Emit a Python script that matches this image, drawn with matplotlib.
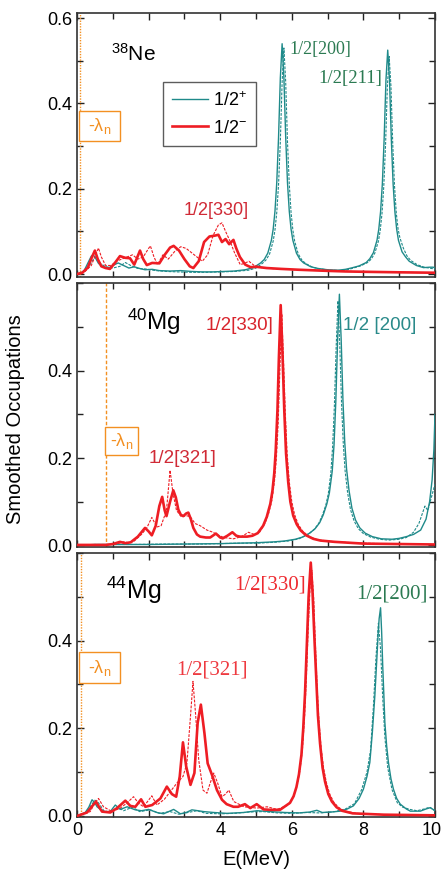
import matplotlib
matplotlib.use("Agg")
import matplotlib.pyplot as plt
from matplotlib.ticker import MultipleLocator, FormatStrFormatter, FixedLocator, FuncFormatter
from matplotlib.patches import Rectangle
from matplotlib.lines import Line2D
from matplotlib.transforms import ScaledTranslation, blended_transform_factory

plt.rcParams['font.family'] = ['Liberation Sans', 'DejaVu Sans']
plt.rcParams['mathtext.fontset'] = 'custom'
plt.rcParams['mathtext.rm'] = 'Liberation Sans'
plt.rcParams['mathtext.it'] = 'Liberation Sans:italic'
plt.rcParams['mathtext.default'] = 'regular'

# ---------------- 38Ne ----------------
NE38_POS_E = [0, 0.1, 0.2, 0.3, 0.4, 0.45, 0.5, 0.6, 0.7, 0.8, 0.9, 1.0, 1.15, 1.3, 1.45, 1.6, 1.75, 1.9,
              2.1, 2.3, 2.6, 2.9, 3.2, 3.5, 3.8, 4.1, 4.4, 4.7, 4.93, 5.13, 5.23, 5.33, 5.43, 5.48, 5.53,
              5.58, 5.63, 5.68, 5.73, 5.78, 5.83, 5.88, 5.93, 5.98, 6.03, 6.13, 6.23, 6.33, 6.53, 6.73,
              7.0, 7.3, 7.5, 7.68, 7.88, 8.08, 8.18, 8.28, 8.38, 8.43, 8.48, 8.53, 8.58, 8.63, 8.68, 8.73,
              8.78, 8.83, 8.88, 8.93, 8.98, 9.08, 9.18, 9.28, 9.48, 9.68, 9.85, 9.95, 10.0]
NE38_POS = [0, 0.002, 0.008, 0.025, 0.042, 0.045, 0.04, 0.025, 0.018, 0.016, 0.015, 0.02, 0.026, 0.02,
            0.014, 0.017, 0.013, 0.01, 0.011, 0.008, 0.007, 0.008, 0.006, 0.005, 0.005, 0.006, 0.007,
            0.01, 0.015, 0.026, 0.034, 0.049, 0.079, 0.105, 0.147, 0.214, 0.32, 0.46, 0.54, 0.46,
            0.32, 0.214, 0.147, 0.105, 0.079, 0.049, 0.034, 0.026, 0.017, 0.013, 0.01, 0.009, 0.011,
            0.0145, 0.019, 0.027, 0.036, 0.05, 0.079, 0.105, 0.146, 0.212, 0.317, 0.454, 0.525, 0.454,
            0.317, 0.212, 0.146, 0.105, 0.079, 0.052, 0.04, 0.03, 0.02, 0.015, 0.016, 0.016, 0.014]
NE38_POS_DASH_E = [0, 0.2, 0.35, 0.5, 0.55, 0.65, 0.8, 1.0, 1.2, 1.35, 1.5, 1.7, 1.9, 2.2, 2.5, 2.8, 3.2,
                   3.6, 4.0, 4.4, 4.8, 5.0, 5.18, 5.28, 5.38, 5.48, 5.53, 5.58, 5.63, 5.68, 5.73, 5.78,
                   5.83, 5.88, 5.93, 5.98, 6.03, 6.08, 6.18, 6.28, 6.38, 6.58, 6.78, 7.1, 7.4, 7.6, 7.72,
                   7.92, 8.12, 8.22, 8.32, 8.42, 8.47, 8.52, 8.57, 8.62, 8.67, 8.72, 8.77, 8.82, 8.87,
                   8.92, 8.97, 9.02, 9.12, 9.22, 9.32, 9.5, 9.7, 9.9, 10.0]
NE38_POS_DASH = [0, 0.005, 0.02, 0.04, 0.038, 0.025, 0.017, 0.014, 0.018, 0.027, 0.02, 0.013, 0.012,
                 0.008, 0.006, 0.005, 0.004, 0.004, 0.005, 0.006, 0.009, 0.014, 0.025, 0.033, 0.047,
                 0.077, 0.103, 0.144, 0.21, 0.31, 0.45, 0.53, 0.45, 0.31, 0.21, 0.144, 0.103, 0.077,
                 0.047, 0.033, 0.025, 0.016, 0.012, 0.009, 0.008, 0.011, 0.014, 0.019, 0.027, 0.035,
                 0.049, 0.077, 0.102, 0.142, 0.206, 0.305, 0.44, 0.51, 0.44, 0.305, 0.206, 0.142,
                 0.105, 0.085, 0.06, 0.042, 0.032, 0.022, 0.016, 0.013, 0.012]
NE38_NEG_E = [0, 0.15, 0.3, 0.42, 0.5, 0.58, 0.68, 0.8, 0.92, 1.05, 1.2, 1.35, 1.48, 1.6, 1.76, 1.85,
              1.95, 2.1, 2.3, 2.45, 2.6, 2.7, 2.85, 3.0, 3.15, 3.25, 3.4, 3.55, 3.7, 3.85, 3.95, 4.05,
              4.15, 4.25, 4.37, 4.45, 4.55, 4.7, 4.85, 5.0, 5.3, 5.7, 6.2, 6.8, 7.5, 8.2, 9.0, 10.0]
NE38_NEG = [0, 0.003, 0.015, 0.04, 0.055, 0.035, 0.018, 0.014, 0.012, 0.025, 0.042, 0.038, 0.037,
            0.022, 0.055, 0.035, 0.021, 0.026, 0.025, 0.045, 0.062, 0.066, 0.055, 0.035, 0.018, 0.014,
            0.03, 0.075, 0.088, 0.09, 0.092, 0.075, 0.082, 0.07, 0.08, 0.06, 0.04, 0.022, 0.016,
            0.017, 0.014, 0.012, 0.01, 0.008, 0.006, 0.005, 0.004, 0.003]
NE38_NEG_DASH_E = [0, 0.2, 0.4, 0.52, 0.6, 0.68, 0.8, 0.95, 1.1, 1.25, 1.4, 1.55, 1.7, 1.85, 2.0, 2.05,
                   2.15, 2.25, 2.4, 2.55, 2.75, 2.9, 3.05, 3.2, 3.35, 3.5, 3.65, 3.8, 3.95, 4.05, 4.15,
                   4.27, 4.4, 4.56, 4.68, 4.8, 4.95, 5.2, 5.6, 6.2, 7.0, 8.0, 9.0, 10.0]
NE38_NEG_DASH = [0, 0.004, 0.02, 0.045, 0.061, 0.04, 0.02, 0.02, 0.03, 0.035, 0.04, 0.045, 0.035,
                 0.04, 0.06, 0.066, 0.04, 0.022, 0.045, 0.035, 0.055, 0.064, 0.06, 0.05, 0.04, 0.03,
                 0.045, 0.09, 0.115, 0.12, 0.1, 0.078, 0.05, 0.022, 0.025, 0.03, 0.02, 0.014, 0.012,
                 0.01, 0.008, 0.005, 0.004, 0.003]

# ---------------- 40Mg ----------------
MG40_POS_E = [0, 0.5, 1.0, 2.0, 3.0, 4.0, 4.5, 5.0, 5.5, 5.8, 6.1, 6.3, 6.5, 6.65, 6.78, 6.88, 6.98, 7.05,
              7.13, 7.18, 7.23, 7.28, 7.33, 7.38, 7.43, 7.48, 7.53, 7.6, 7.68, 7.78, 7.9, 8.05, 8.25,
              8.5, 8.8, 9.0, 9.2, 9.4, 9.6, 9.75, 9.85, 9.92, 9.97, 10.0]
MG40_POS = [0, 0.002, 0.002, 0.002, 0.003, 0.004, 0.005, 0.006, 0.008, 0.01, 0.014, 0.019, 0.028, 0.038,
            0.052, 0.07, 0.095, 0.12, 0.17, 0.23, 0.33, 0.47, 0.575, 0.47, 0.33, 0.235, 0.175, 0.125,
            0.085, 0.058, 0.04, 0.028, 0.02, 0.015, 0.014, 0.016, 0.02, 0.025, 0.035, 0.06, 0.1, 0.15,
            0.22, 0.3]
MG40_POS_DASH_E = [0, 0.5, 1.5, 2.5, 3.5, 4.5, 5.0, 5.5, 5.9, 6.2, 6.45, 6.62, 6.75, 6.85, 6.95, 7.02,
                   7.09, 7.14, 7.19, 7.24, 7.29, 7.34, 7.39, 7.44, 7.49, 7.56, 7.64, 7.74, 7.86, 8.0,
                   8.2, 8.45, 8.7, 9.0, 9.2, 9.4, 9.55, 9.72, 9.8, 9.9, 10.0]
MG40_POS_DASH = [0, 0.002, 0.002, 0.003, 0.003, 0.005, 0.005, 0.007, 0.01, 0.015, 0.025, 0.036, 0.05,
                 0.068, 0.092, 0.118, 0.165, 0.225, 0.32, 0.455, 0.56, 0.46, 0.325, 0.23, 0.17, 0.12,
                 0.082, 0.056, 0.038, 0.027, 0.019, 0.014, 0.012, 0.014, 0.018, 0.03, 0.05, 0.09, 0.08,
                 0.11, 0.14]
MG40_NEG_E = [0, 0.8, 1.0, 1.2, 1.35, 1.5, 1.7, 1.9, 2.0, 2.09, 2.2, 2.3, 2.38, 2.45, 2.5, 2.6, 2.69,
              2.76, 2.83, 2.9, 2.97, 3.05, 3.11, 3.18, 3.25, 3.35, 3.44, 3.6, 3.72, 3.88, 4.0, 4.07,
              4.2, 4.34, 4.45, 4.55, 4.75, 4.9, 5.05, 5.2, 5.3, 5.4, 5.46, 5.51, 5.55, 5.6, 5.64, 5.69,
              5.74, 5.79, 5.84, 5.9, 5.96, 6.04, 6.14, 6.25, 6.4, 6.6, 6.8, 7.2, 7.6, 8.0, 9.0, 10.0]
MG40_NEG = [0.001, 0.001, 0.003, 0.008, 0.005, 0.007, 0.02, 0.04, 0.032, 0.023, 0.045, 0.09, 0.111,
            0.08, 0.067, 0.1, 0.126, 0.11, 0.082, 0.07, 0.067, 0.073, 0.075, 0.06, 0.04, 0.025, 0.02,
            0.018, 0.018, 0.027, 0.018, 0.016, 0.022, 0.03, 0.022, 0.02, 0.02, 0.022, 0.028, 0.045,
            0.065, 0.095, 0.125, 0.165, 0.215, 0.31, 0.43, 0.55, 0.44, 0.31, 0.21, 0.145, 0.1, 0.068,
            0.048, 0.034, 0.023, 0.015, 0.011, 0.008, 0.006, 0.004, 0.003, 0.002]
MG40_NEG_DASH_E = [0, 0.8, 1.1, 1.3, 1.45, 1.6, 1.8, 1.95, 2.09, 2.23, 2.35, 2.5, 2.6, 2.68, 2.78, 2.92,
                   3.05, 3.16, 3.3, 3.44, 3.63, 3.8, 3.9, 4.1, 4.37, 4.6, 4.79, 4.95, 5.1, 5.25, 5.35,
                   5.45, 5.52, 5.57, 5.62, 5.67, 5.72, 5.77, 5.82, 5.87, 5.93, 6.0, 6.08, 6.18, 6.3,
                   6.45, 6.7, 7.2, 8.0, 9.0, 10.0]
MG40_NEG_DASH = [0.001, 0.001, 0.003, 0.008, 0.006, 0.01, 0.025, 0.04, 0.064, 0.042, 0.045, 0.08, 0.172,
                 0.12, 0.08, 0.065, 0.068, 0.066, 0.05, 0.045, 0.035, 0.03, 0.025, 0.018, 0.015, 0.02,
                 0.03, 0.025, 0.03, 0.05, 0.072, 0.105, 0.15, 0.2, 0.28, 0.41, 0.53, 0.42, 0.3, 0.21,
                 0.145, 0.1, 0.07, 0.048, 0.033, 0.022, 0.013, 0.008, 0.005, 0.003, 0.002]

# ---------------- 44Mg ----------------
MG44_POS_E = [0, 0.23, 0.33, 0.42, 0.5, 0.56, 0.74, 0.93, 1.07, 1.21, 1.4, 1.63, 1.8, 2.0, 2.23, 2.42,
              2.7, 2.89, 3.05, 3.21, 3.38, 3.54, 3.82, 4.19, 4.66, 5.03, 5.4, 5.8, 6.2, 6.5, 6.7, 6.85,
              7.1, 7.35, 7.55, 7.72, 7.88, 8.0, 8.1, 8.18, 8.25, 8.32, 8.37, 8.41, 8.44, 8.48, 8.51,
              8.54, 8.57, 8.6, 8.65, 8.7, 8.77, 8.84, 8.93, 9.03, 9.2, 9.31, 9.59, 9.75, 9.87, 10.0]
MG44_POS = [0, 0.008, 0.02, 0.037, 0.03, 0.021, 0.01, 0.01, 0.025, 0.015, 0.021, 0.014, 0.012, 0.015,
            0.008, 0.005, 0.015, 0.005, 0.008, 0.014, 0.012, 0.01, 0.008, 0.006, 0.008, 0.012, 0.01,
            0.008, 0.007, 0.009, 0.013, 0.008, 0.009, 0.011, 0.016, 0.023, 0.04, 0.061, 0.09, 0.122,
            0.19, 0.274, 0.35, 0.411, 0.45, 0.475, 0.42, 0.343, 0.28, 0.213, 0.16, 0.122, 0.085,
            0.061, 0.04, 0.027, 0.016, 0.011, 0.011, 0.016, 0.019, 0.012]
MG44_POS_DASH_E = [0, 0.25, 0.4, 0.5, 0.6, 0.75, 0.95, 1.15, 1.3, 1.55, 1.75, 2.05, 2.3, 2.6, 2.85, 3.1,
                   3.35, 3.6, 4.0, 4.4, 4.8, 5.2, 5.6, 6.0, 6.4, 6.8, 7.2, 7.5, 7.75, 7.95, 8.1, 8.2,
                   8.28, 8.35, 8.42, 8.48, 8.54, 8.6, 8.68, 8.8, 8.95, 9.1, 9.3, 9.5, 9.7, 9.85, 10.0]
MG44_POS_DASH = [0, 0.006, 0.025, 0.036, 0.03, 0.012, 0.008, 0.02, 0.012, 0.02, 0.01, 0.014, 0.006,
                 0.01, 0.004, 0.008, 0.012, 0.006, 0.005, 0.006, 0.009, 0.01, 0.007, 0.006, 0.008,
                 0.007, 0.01, 0.016, 0.028, 0.06, 0.1, 0.15, 0.25, 0.36, 0.44, 0.38, 0.27, 0.18, 0.11,
                 0.06, 0.03, 0.02, 0.015, 0.012, 0.016, 0.02, 0.012]
MG44_NEG_E = [0, 0.28, 0.42, 0.53, 0.62, 0.7, 0.93, 1.12, 1.35, 1.49, 1.63, 1.79, 1.91, 2.1, 2.33, 2.51,
              2.65, 2.77, 2.87, 2.96, 3.05, 3.17, 3.28, 3.37, 3.46, 3.56, 3.65, 3.77, 3.91, 4.05, 4.18,
              4.37, 4.5, 4.69, 4.84, 5.02, 5.21, 5.4, 5.67, 5.95, 6.05, 6.13, 6.2, 6.27, 6.32, 6.37,
              6.42, 6.47, 6.53, 6.58, 6.63, 6.68, 6.73, 6.79, 6.86, 6.93, 7.02, 7.12, 7.25, 7.4, 7.7,
              8.56, 10.0]
MG44_NEG = [0, 0.008, 0.022, 0.033, 0.02, 0.01, 0.008, 0.018, 0.035, 0.023, 0.021, 0.038, 0.021, 0.025,
            0.04, 0.067, 0.05, 0.044, 0.09, 0.168, 0.113, 0.071, 0.098, 0.212, 0.254, 0.189, 0.12,
            0.094, 0.059, 0.037, 0.027, 0.021, 0.021, 0.027, 0.018, 0.027, 0.015, 0.014, 0.014, 0.03,
            0.045, 0.066, 0.095, 0.14, 0.2, 0.28, 0.39, 0.5, 0.578, 0.51, 0.41, 0.32, 0.23, 0.165,
            0.11, 0.078, 0.05, 0.033, 0.02, 0.012, 0.006, 0.003, 0.0015]
MG44_NEG_DASH_E = [0, 0.37, 0.5, 0.6, 0.74, 0.98, 1.21, 1.4, 1.58, 1.72, 1.86, 2.09, 2.23, 2.44, 2.61,
                   2.79, 2.96, 3.07, 3.17, 3.24, 3.31, 3.4, 3.52, 3.63, 3.72, 3.82, 3.93, 4.05, 4.15,
                   4.24, 4.38, 4.66, 5.03, 5.31, 5.59, 5.9, 6.05, 6.15, 6.23, 6.3, 6.36, 6.41, 6.46,
                   6.51, 6.56, 6.61, 6.66, 6.71, 6.76, 6.82, 6.89, 6.97, 7.06, 7.17, 7.3, 7.45, 7.8, 8.6,
                   10.0]
MG44_NEG_DASH = [0, 0.01, 0.03, 0.04, 0.021, 0.01, 0.018, 0.03, 0.044, 0.029, 0.021, 0.046, 0.025,
                 0.038, 0.056, 0.075, 0.09, 0.12, 0.227, 0.307, 0.235, 0.128, 0.059, 0.052, 0.075,
                 0.098, 0.075, 0.044, 0.05, 0.059, 0.033, 0.021, 0.018, 0.021, 0.015, 0.025, 0.045,
                 0.07, 0.105, 0.155, 0.23, 0.32, 0.43, 0.52, 0.56, 0.5, 0.39, 0.29, 0.215, 0.155, 0.108,
                 0.075, 0.05, 0.032, 0.02, 0.012, 0.006, 0.003, 0.0015]

# neutron Fermi level (-lambda_n) per nucleus, MeV
LAMBDA_N = [0.08, 0.81, 0.10]

TEAL = '#1f8a8a'
RED = '#ee1d24'
ORANGE = '#f39022'
GREEN_TXT = '#2b7a52'

fig = plt.figure(figsize=(4.43, 8.73), dpi=100)
left, width = 0.1738, 0.8081
ax1 = fig.add_axes([left, 0.6827, width, 0.3024])
ax2 = fig.add_axes([left, 0.3738, width, 0.3017])
ax3 = fig.add_axes([left, 0.0638, width, 0.3028])
axes = [ax1, ax2, ax3]

curves = [
    (NE38_POS_E, NE38_POS, NE38_POS_DASH_E, NE38_POS_DASH, NE38_NEG_E, NE38_NEG, NE38_NEG_DASH_E, NE38_NEG_DASH),
    (MG40_POS_E, MG40_POS, MG40_POS_DASH_E, MG40_POS_DASH, MG40_NEG_E, MG40_NEG, MG40_NEG_DASH_E, MG40_NEG_DASH),
    (MG44_POS_E, MG44_POS, MG44_POS_DASH_E, MG44_POS_DASH, MG44_NEG_E, MG44_NEG, MG44_NEG_DASH_E, MG44_NEG_DASH),
]
line_styles = [(0, (1.0, 1.0)), (0, (2.5, 1.5)), (0, (1.0, 1.0))]

for ax, (pe, p, pde, pd, ne, n, nde, nd), lam, lls in zip(axes, curves, LAMBDA_N, line_styles):
    ax.plot(pe, p, color=TEAL, lw=1.0, zorder=3)
    ax.plot(pde, pd, color=TEAL, lw=0.8, ls=(0, (2.5, 1.2)), zorder=3)
    ax.plot(nde, nd, color=RED, lw=0.8, ls=(0, (2.5, 1.2)), zorder=4)
    ax.plot(ne, n, color=RED, lw=1.9, zorder=5)
    ax.axvline(lam, color=ORANGE, lw=1.0, ls=lls, zorder=2)

    ax.set_xlim(0, 10)
    ax.xaxis.set_major_locator(MultipleLocator(2))
    ax.xaxis.set_minor_locator(MultipleLocator(1))
    ax.yaxis.set_minor_locator(MultipleLocator(0.1))
    ax.yaxis.set_major_formatter(FormatStrFormatter('%.1f'))
    ax.tick_params(which='both', direction='in', top=True, right=True, labelsize=13, width=1.0,
                   color='#222222')
    ax.tick_params(which='major', length=5)
    ax.tick_params(which='minor', length=4)
    for s in ax.spines.values():
        s.set_linewidth(1.2)
        s.set_color('#333333')

ax1.set_ylim(-0.007, 0.612)
ax1.yaxis.set_major_locator(FixedLocator([0.0, 0.2, 0.4, 0.6]))
for ax in (ax2, ax3):
    ax.set_ylim(-0.003, 0.6)
    ax.yaxis.set_major_locator(FixedLocator([0.0, 0.2, 0.4]))
for ax in (ax1, ax2):
    ax.tick_params(labelbottom=False)

# x tick labels; the one at the right edge is placed by hand so it stays on the canvas
X_MAX = 10
ax3.xaxis.set_major_formatter(FuncFormatter(lambda v, pos: '' if abs(v - X_MAX) < 1e-9 else '%d' % v))
edge_tr = blended_transform_factory(ax3.transData, ax3.transAxes) + \
    ScaledTranslation(7 / 100, -3.5 / 72, fig.dpi_scale_trans)
ax3.text(X_MAX, 0, '%d' % X_MAX, transform=edge_tr, fontsize=13, ha='right', va='top')

# -lambda_n boxes
def lambda_box(ax, x0, y0, w, h):
    ax.add_patch(Rectangle((x0, y0), w, h, transform=ax.transData, fill=True, fc='white',
                           ec=ORANGE, lw=1.0, zorder=6))
    ax.text(x0 + w / 2, y0 + h / 2, r'-λ$_{n}$', color=ORANGE, fontsize=13,
            ha='center', va='center', zorder=7)

lambda_box(ax1, 0.06, 0.312, 1.15, 0.07)
lambda_box(ax2, 0.79, 0.206, 0.92, 0.066)
lambda_box(ax3, 0.06, 0.304, 1.15, 0.069)

# nucleus labels
ax1.text(0.95, 0.50, r'$^{38}$Ne', fontsize=15, color='black', ha='left', va='baseline')
ax2.text(1.41, 0.494, r'$^{40}$Mg', fontsize=17.5, color='black', ha='left', va='baseline')
ax3.text(0.81, 0.494, r'$^{44}$Mg', fontsize=18, color='black', ha='left', va='baseline')

# orbital labels
serif = ['Liberation Serif', 'DejaVu Serif']
ax1.text(5.93, 0.517, '1/2[200]', family=serif, fontsize=13, color=GREEN_TXT, ha='left', va='baseline')
ax1.text(6.74, 0.447, '1/2[211]', family=serif, fontsize=13.5, color=GREEN_TXT, ha='left', va='baseline')
ax1.text(2.97, 0.138, '1/2[330]', fontsize=13, color='#d02a36', ha='left', va='baseline')

ax2.text(3.58, 0.494, '1/2[330]', fontsize=13.5, color='#d8242c', ha='left', va='baseline')
ax2.text(7.44, 0.494, '1/2 [200]', fontsize=13.5, color='#2a8a8a', ha='left', va='baseline')
ax2.text(1.99, 0.189, '1/2[321]', fontsize=13.5, color='#d02a36', ha='left', va='baseline')

ax3.text(4.39, 0.517, '1/2[330]', family=serif, fontsize=15, color='#ee2a30', ha='left', va='baseline')
ax3.text(7.79, 0.495, '1/2[200]', family=serif, fontsize=15, color=GREEN_TXT, ha='left', va='baseline')
ax3.text(2.78, 0.322, '1/2[321]', family=serif, fontsize=15, color='#ee3a40', ha='left', va='baseline')

# legend
handles = [Line2D([], [], color=TEAL, lw=1.0), Line2D([], [], color=RED, lw=1.9)]
leg = ax1.legend(handles, [r'1/2$^{+}$', r'1/2$^{-}$'], loc='upper left', bbox_to_anchor=(0.24, 0.739),
                 frameon=True, fancybox=False, fontsize=13, handlelength=2.0, handletextpad=0.3,
                 labelspacing=0.55, borderpad=0.5, borderaxespad=0.0)
leg.get_frame().set_edgecolor('#333333')
leg.get_frame().set_linewidth(1.0)

fig.text(0.035, 0.52, 'Smoothed Occupations', rotation=90, fontsize=14.5, ha='center', va='center')
ax3.set_xlabel('E(MeV)', fontsize=14.5, labelpad=8)

fig.savefig('out.png', dpi=100)
